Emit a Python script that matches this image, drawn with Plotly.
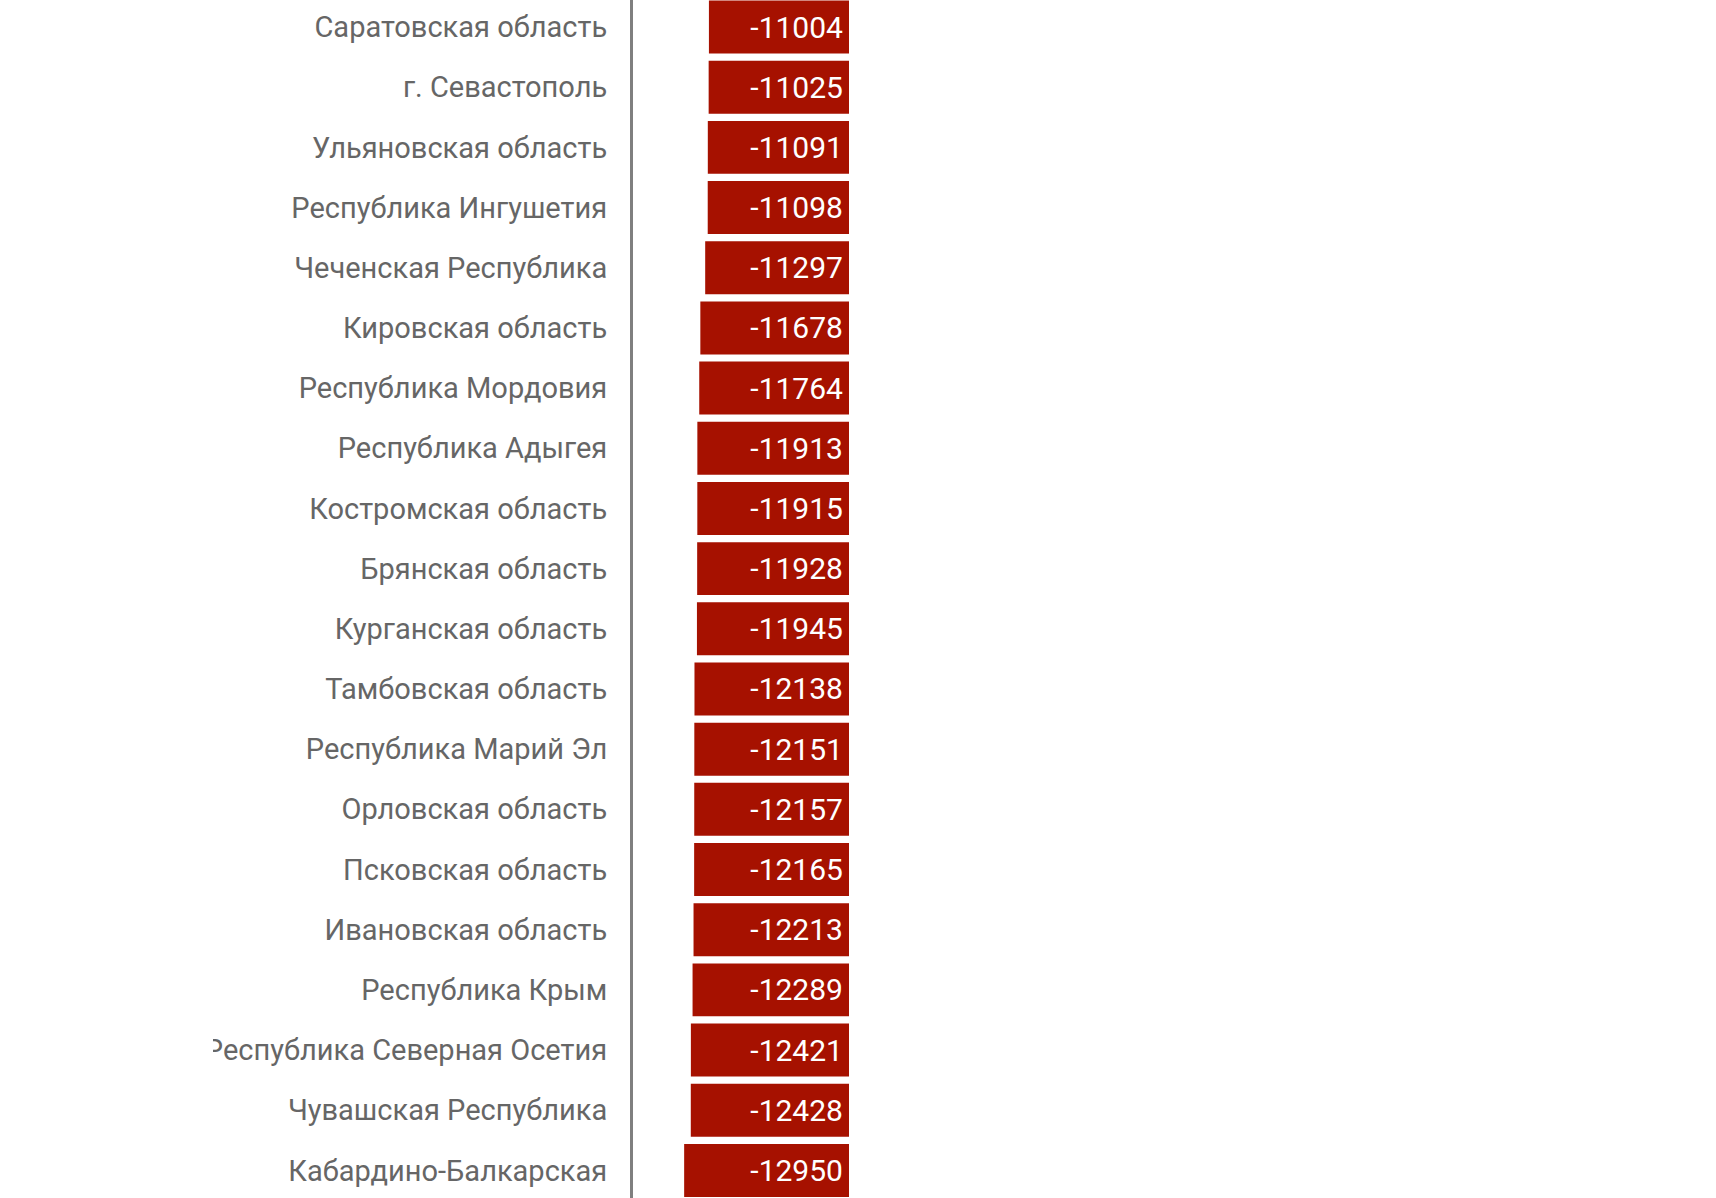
import plotly.graph_objects as go

regions = [
    "Саратовская область",
    "г. Севастополь",
    "Ульяновская область",
    "Республика Ингушетия",
    "Чеченская Республика",
    "Кировская область",
    "Республика Мордовия",
    "Республика Адыгея",
    "Костромская область",
    "Брянская область",
    "Курганская область",
    "Тамбовская область",
    "Республика Марий Эл",
    "Орловская область",
    "Псковская область",
    "Ивановская область",
    "Республика Крым",
    "Республика Северная Осетия",
    "Чувашская Республика",
    "Кабардино-Балкарская",
]
values = [-11004, -11025, -11091, -11098, -11297, -11678, -11764, -11913, -11915, -11928,
          -11945, -12138, -12151, -12157, -12165, -12213, -12289, -12421, -12428, -12950]

W, H = 1716, 1198
left_px, right_px = 633, 849       # axis line / zero position in pixels
px_per_unit = 0.01273
row_px = 60.18

x_min = -(right_px - left_px) / px_per_unit
top_val = -27 / row_px
bottom_val = top_val + H / row_px

fig = go.Figure(go.Bar(
    x=values,
    y=regions,
    orientation="h",
    marker=dict(color="#a61100", line_width=0),
    text=[str(v) + "\u200a" for v in values],
    textposition="inside",
    insidetextanchor="start",
    textfont=dict(family="Roboto", size=30, color="white"),
    cliponaxis=False,
))

fig.update_layout(
    width=W,
    height=H,
    margin=dict(l=left_px, r=W - right_px, t=0, b=0, pad=0),
    paper_bgcolor="white",
    plot_bgcolor="white",
    bargap=0.12,
    showlegend=False,
    font=dict(family="Roboto", size=29, color="#666666"),
)
fig.update_xaxes(range=[x_min, 0], visible=False, fixedrange=True)
fig.update_yaxes(
    range=[bottom_val, top_val],
    showline=True, linecolor="#7f7f7f", linewidth=3,
    showgrid=False, zeroline=False,
    ticks="", ticklabelstandoff=17,
    tickfont=dict(family="Roboto", size=29, color="#666666"),
)

# the source picture is cropped on the left
fig.add_shape(type="rect", xref="paper", yref="paper",
              x0=-left_px / (right_px - left_px), x1=(213 - left_px) / (right_px - left_px),
              y0=0, y1=1, fillcolor="white", line_width=0, layer="above")

fig.write_html("out.html", config={"displayModeBar": False},
               post_script="document.body.style.margin = '0';")
